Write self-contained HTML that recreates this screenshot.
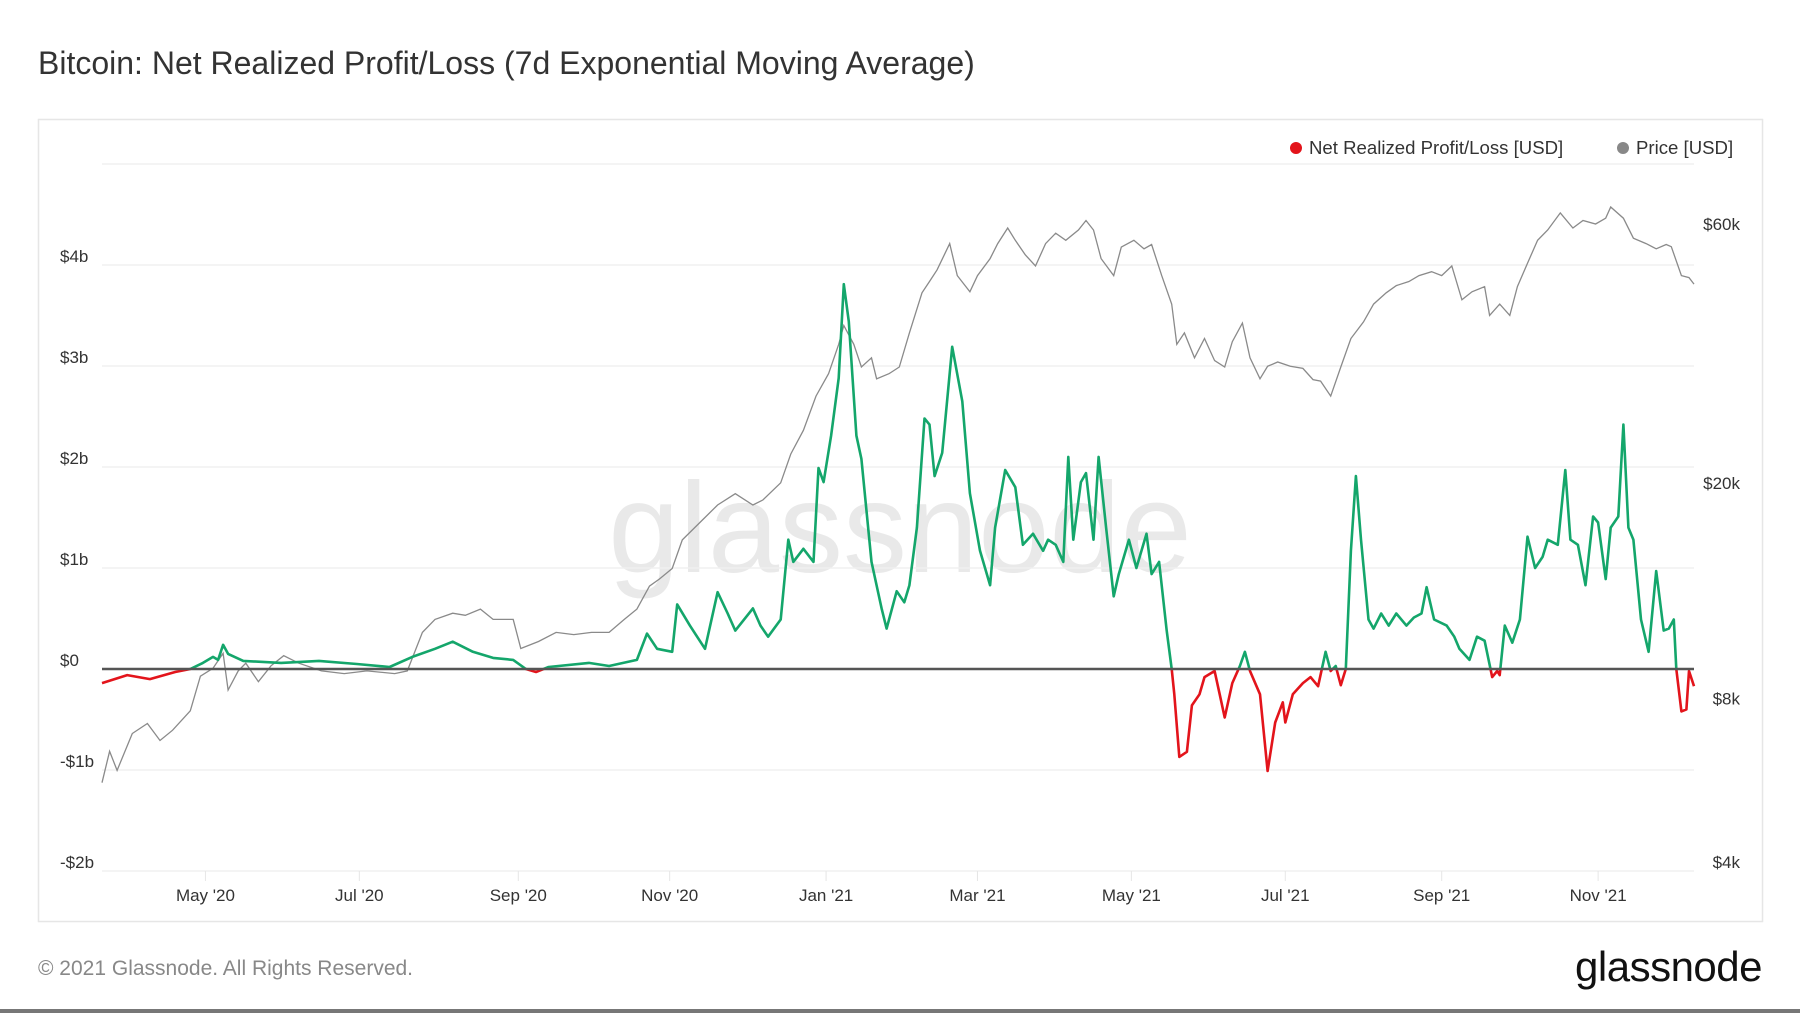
<!DOCTYPE html>
<html><head><meta charset="utf-8"><style>
body{margin:0;background:#fff;width:1800px;height:1013px;overflow:hidden;font-family:"Liberation Sans",sans-serif;}
svg{display:block}
</style></head><body>
<svg id="chart" width="1800" height="1013" viewBox="0 0 1800 1013" xmlns="http://www.w3.org/2000/svg">
<text x="38" y="74" font-size="32" fill="#333" font-family="Liberation Sans, sans-serif">Bitcoin: Net Realized Profit/Loss (7d Exponential Moving Average)</text>
<rect x="38.5" y="119.5" width="1724" height="802" fill="#fff" stroke="#e6e6e6" stroke-width="1.5"/>
<text x="900" y="572" font-size="128" fill="#e9e9e9" text-anchor="middle" font-family="Liberation Sans, sans-serif">glassnode</text>
<g id="grid"></g>
<g id="axes"></g>
<g id="series"></g>
<g>
<g><circle cx="1296" cy="148" r="6" fill="#e3141b"/><text x="1309" y="154" font-size="18.6" fill="#333">Net Realized Profit/Loss [USD]</text></g>
<g><circle cx="1623" cy="148" r="6" fill="#888"/><text x="1636" y="154" font-size="18.6" fill="#333">Price [USD]</text></g>
</g>
<text x="38" y="975" font-size="21" fill="#888">© 2021 Glassnode. All Rights Reserved.</text>
<text x="1762" y="981" font-size="42" fill="#111" text-anchor="end" letter-spacing="-0.5">glassnode</text>
<rect x="0" y="1009" width="1800" height="4" fill="#777"/>
</svg>
<script>
// days since 2020-03-22
const nrplDays=[0,10,19,29,35,40,44,46,48,50,56,71,86,101,114,123,132,139,147,155,163,168,172,177,193,201,212,216,220,226,228,233,239,244,248,251,258,261,264,269,272,274,278,282,284,286,289,292,294,296,299,301,305,309,311,315,318,320,323,326,328,330,333,337,341,344,348,352,354,358,362,365,369,373,375,378,381,383,385,388,390,393,395,398,401,403,407,410,414,416,419,422,424,425,427,430,432,435,437,441,443,445,448,451,453,455,459,462,465,468,469,472,476,479,482,485,487,489,491,493,495,497,499,502,504,507,510,513,517,520,523,525,528,533,536,538,542,545,548,551,553,554,556,559,562,565,568,571,573,577,580,582,585,588,591,593,596,598,601,603,605,607,610,613,616,619,621,623,624,626,628,629,631];
// billions USD
const nrplValues=[-0.14,-0.06,-0.10,-0.03,0,0.06,0.12,0.09,0.24,0.15,0.08,0.06,0.08,0.05,0.02,0.12,0.2,0.27,0.17,0.11,0.09,0,-0.03,0.02,0.06,0.03,0.09,0.35,0.2,0.17,0.64,0.43,0.2,0.76,0.55,0.38,0.6,0.43,0.32,0.49,1.28,1.06,1.19,1.06,1.99,1.85,2.31,2.88,3.81,3.44,2.31,2.08,1.06,0.6,0.4,0.77,0.66,0.83,1.4,2.48,2.42,1.91,2.14,3.19,2.65,1.74,1.17,0.83,1.4,1.97,1.8,1.23,1.34,1.17,1.28,1.23,1.06,2.1,1.28,1.85,1.94,1.28,2.1,1.4,0.72,0.94,1.28,1.0,1.34,0.94,1.06,0.38,0,-0.25,-0.87,-0.82,-0.36,-0.25,-0.08,-0.02,-0.25,-0.48,-0.14,0.03,0.17,-0.02,-0.25,-1.01,-0.53,-0.33,-0.53,-0.25,-0.14,-0.08,-0.17,0.17,-0.02,0.03,-0.16,0,1.17,1.91,1.28,0.49,0.4,0.55,0.43,0.55,0.43,0.51,0.55,0.81,0.49,0.43,0.32,0.2,0.09,0.32,0.28,-0.08,-0.02,-0.06,0.43,0.26,0.49,1.31,1.0,1.11,1.28,1.23,1.97,1.28,1.23,0.83,1.51,1.45,0.89,1.4,1.51,2.42,1.4,1.28,0.49,0.17,0.97,0.38,0.4,0.49,0,-0.42,-0.4,-0.02,-0.17];
const priceDays=[0,3,6,12,18,23,28,35,39,44,48,50,54,57,62,67,72,78,87,96,105,116,121,127,132,139,144,150,155,163,166,173,180,187,194,201,207,212,217,221,226,230,237,244,251,258,262,269,273,278,283,288,292,294,298,301,305,307,312,316,320,325,328,331,336,339,344,347,352,355,359,362,366,370,374,378,382,387,390,393,396,401,404,409,413,416,420,424,426,429,433,437,441,445,448,452,455,459,462,466,471,476,480,483,487,491,495,500,504,509,513,518,522,527,531,535,539,543,548,550,554,558,561,565,569,573,578,583,587,592,596,598,603,607,612,616,620,622,626,629,631];
// thousands USD
const priceValues=[5.6,6.4,5.9,6.9,7.2,6.7,7.0,7.6,8.8,9.1,9.7,8.3,9.0,9.3,8.6,9.2,9.6,9.3,9.0,8.9,9.0,8.9,9.0,10.6,11.2,11.5,11.4,11.7,11.2,11.2,9.9,10.2,10.6,10.5,10.6,10.6,11.2,11.7,12.9,13.3,13.9,15.7,16.9,18.2,19.1,18.2,18.6,20.0,22.6,25,28.9,31.8,36,39,36,32.7,34,31.1,31.8,32.7,37.8,44.8,47,49.4,55.2,48.2,45,48.2,51.8,55.2,59,56,52.6,50.2,55.2,57.7,56,58.5,60.9,58.5,51.8,48.2,54.4,56,54,55,48.2,42.7,36,37.8,34,36.9,33.6,32.7,36.4,39.4,34,31.1,32.8,33.4,32.8,32.5,31,30.8,28.9,32.7,36.9,39.6,42.7,44.8,46.2,47,48.2,49,48.2,50.2,43.5,45,46,40.7,42.7,40.7,46,50.8,56,58.5,62.9,59,60.9,60,61.5,64.5,61.5,56.5,55.2,54,55,54.5,48.2,47.8,46.5];
const leftTicks=[-2,-1,0,1,2,3,4,5];
const leftTickLabels=["-$2b","-$1b","$0","$1b","$2b","$3b","$4b",""];
const rightTicks=[4,8,20,60];
const rightTickLabels=["$4k","$8k","$20k","$60k"];
const xTickDays=[41,102,165,225,287,347,408,469,531,593];
const xTickLabels=["May '20","Jul '20","Sep '20","Nov '20","Jan '21","Mar '21","May '21","Jul '21","Sep '21","Nov '21"];

const NS="http://www.w3.org/2000/svg";
const X0=102,X1=1694,D0=0,D1=631;
const xs=d=>X0+(d-D0)/(D1-D0)*(X1-X0);
const ZERO=669,PERB=101;
const yl=v=>ZERO-v*PERB;
const YB=862,YT=224;
const yr=p=>YB-Math.log10(p/4)/Math.log10(15)*(YB-YT);
function mk(tag,attrs,parent){const e=document.createElementNS(NS,tag);for(const k in attrs)e.setAttribute(k,attrs[k]);parent.appendChild(e);return e;}
const grid=document.getElementById('grid'),axes=document.getElementById('axes'),series=document.getElementById('series');
leftTicks.forEach((t,i)=>{
  const g=mk('line',{x1:X0,x2:X1,y1:yl(t),y2:yl(t),stroke:'#f0f0f0','stroke-width':1.5},grid);
  
  
  if(leftTickLabels[i]){const tx=mk('text',{x:60,y:yl(t)-3,'font-size':17,fill:'#333'},axes);tx.textContent=leftTickLabels[i];
  
  }
});
rightTicks.forEach((t,i)=>{
  const tx=mk('text',{x:1740,y:yr(t)+6,'font-size':17,fill:'#333','text-anchor':'end'},axes);tx.textContent=rightTickLabels[i];
  
  
});
xTickDays.forEach((d,i)=>{
  const tk=mk('line',{x1:xs(d),x2:xs(d),y1:yl(-2),y2:yl(-2)+10,stroke:'#e6e6e6','stroke-width':1},axes);
  
  
  const tx=mk('text',{x:xs(d),y:901,'font-size':17,fill:'#333','text-anchor':'middle'},axes);tx.textContent=xTickLabels[i];
  
  
});
const defs=mk('defs',{},series);
const c1=mk('clipPath',{id:'above'},defs);mk('rect',{x:0,y:0,width:1800,height:ZERO},c1);
const c2=mk('clipPath',{id:'below'},defs);mk('rect',{x:0,y:ZERO,width:1800,height:400},c2);
const pp=priceDays.map((d,i)=>(i?'L':'M')+xs(d).toFixed(1)+','+yr(priceValues[i]).toFixed(1)).join('');
const pl=mk('path',{d:pp,fill:'none',stroke:'#8a8a8a','stroke-width':1.3},series);


const np=nrplDays.map((d,i)=>(i?'L':'M')+xs(d).toFixed(1)+','+yl(nrplValues[i]).toFixed(1)).join('');
const g1=mk('path',{d:np,fill:'none',stroke:'#14a66b','stroke-width':2.6,'clip-path':'url(#above)','stroke-linejoin':'round'},series);


const r1=mk('path',{d:np,fill:'none',stroke:'#e3141b','stroke-width':2.6,'clip-path':'url(#below)','stroke-linejoin':'round'},series);


const z=mk('line',{x1:X0,x2:X1,y1:ZERO,y2:ZERO,stroke:'#555','stroke-width':2.4},series);


</script>
</body></html>
